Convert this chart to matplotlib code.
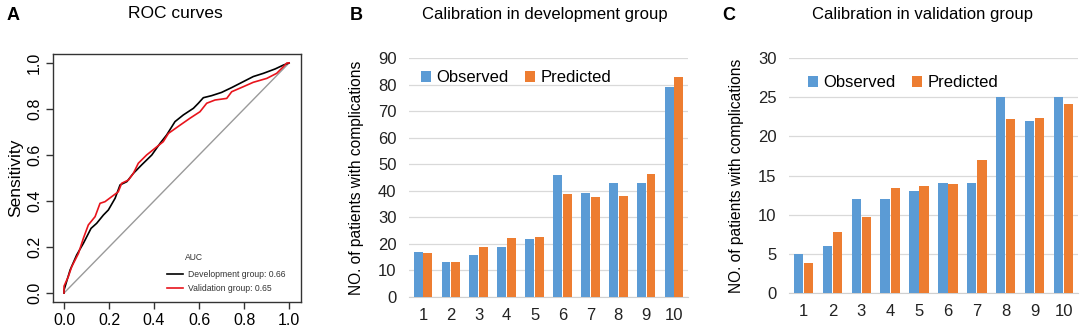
import matplotlib.pyplot as plt
import numpy as np

plt.rcParams['font.family'] = ['Liberation Sans', 'DejaVu Sans']

# ROC curve points (1 - specificity, sensitivity)
dev_fpr = [0.0, 0.0, 0.027, 0.056, 0.086, 0.12, 0.145, 0.175, 0.197, 0.227, 0.249, 0.279,
           0.308, 0.345, 0.39, 0.427, 0.456, 0.493, 0.53, 0.575, 0.597, 0.619, 0.656,
           0.7, 0.745, 0.797, 0.841, 0.886, 0.938, 0.975, 1.0]
dev_tpr = [0.0, 0.013, 0.1, 0.165, 0.216, 0.281, 0.303, 0.339, 0.361, 0.412, 0.47, 0.484,
           0.52, 0.557, 0.6, 0.651, 0.687, 0.745, 0.774, 0.803, 0.825, 0.849, 0.858,
           0.872, 0.893, 0.919, 0.941, 0.955, 0.974, 0.991, 1.0]
val_fpr = [0.0, 0.0, 0.019, 0.034, 0.064, 0.086, 0.108, 0.138, 0.16, 0.182, 0.212, 0.241,
           0.256, 0.286, 0.308, 0.33, 0.367, 0.404, 0.441, 0.464, 0.516, 0.56, 0.604,
           0.634, 0.671, 0.723, 0.745, 0.797, 0.841, 0.901, 0.945, 0.975, 0.99, 1.0]
val_tpr = [0.0, 0.03, 0.071, 0.114, 0.172, 0.238, 0.296, 0.332, 0.39, 0.397, 0.419, 0.44,
           0.477, 0.491, 0.52, 0.564, 0.6, 0.629, 0.658, 0.694, 0.73, 0.76, 0.788,
           0.825, 0.839, 0.846, 0.875, 0.897, 0.916, 0.933, 0.955, 0.984, 1.0, 1.0]
auc_labels = ['Development group: 0.66', 'Validation group: 0.65']

# calibration bars
deciles = ['1', '2', '3', '4', '5', '6', '7', '8', '9', '10']
dev_observed = [17, 13, 16, 19, 22, 46, 39, 43, 43, 79]
dev_predicted = [16.4, 13.3, 18.7, 22.1, 22.6, 38.8, 37.8, 37.9, 46.4, 82.9]
val_observed = [5, 6, 12, 12, 13, 14, 14, 25, 22, 25]
val_predicted = [3.8, 7.8, 9.7, 13.4, 13.7, 13.9, 17.0, 22.2, 22.3, 24.1]

BLUE = '#5B9BD5'
ORANGE = '#ED7D31'

W, H = 1084, 330
fig = plt.figure(figsize=(W / 100, H / 100), dpi=100)


def px_rect(left, top, right, bottom):
    return [left / W, 1 - bottom / H, (right - left) / W, (bottom - top) / H]


# ---- A: ROC ----
ax = fig.add_axes(px_rect(53, 54, 301, 302))
ax.plot([0, 1], [0, 1], color='#9a9a9a', lw=1)
ax.plot(dev_fpr, dev_tpr, color='black', lw=1.2, label=auc_labels[0])
ax.plot(val_fpr, val_tpr, color='#e8141c', lw=1.2, label=auc_labels[1])
ax.set_xlim(-0.049, 1.053)
ax.set_ylim(-0.039, 1.039)
ticks = [0.0, 0.2, 0.4, 0.6, 0.8, 1.0]
ax.set_xticks(ticks)
ax.set_xticklabels(['%.1f' % t for t in ticks])
ax.set_yticks(ticks)
ax.set_yticklabels(['%.1f' % t for t in ticks], rotation=90, va='center')
ax.tick_params(length=5, width=1, labelsize=11.5, pad=3, color='#333333')
for s in ax.spines.values():
    s.set_linewidth(1)
    s.set_color('#333333')
ax.set_ylabel('Sensitivity', fontsize=12.5, labelpad=3)
leg = ax.legend(loc='upper left', bbox_to_anchor=(163 / W, 1 - 266 / H),
                bbox_transform=fig.transFigure, frameon=False, fontsize=6.2,
                handlelength=1.8, handletextpad=0.6, labelspacing=0.55, borderpad=0)
for t in leg.get_texts():
    t.set_color('#333333')
fig.text(185 / W, 1 - 257 / H, 'AUC', fontsize=6.2, color='#333333', va='center')


def calib(rect, obs, pred, ymax, step, leg_anchor):
    ax = fig.add_axes(px_rect(*rect))
    x = np.arange(len(deciles))
    ax.bar(x - 0.175, obs, width=0.32, color=BLUE, label='Observed', zorder=3)
    ax.bar(x + 0.175, pred, width=0.32, color=ORANGE, label='Predicted', zorder=3)
    ax.set_xlim(-0.5, len(deciles) - 0.5)
    ax.set_ylim(0, ymax)
    ax.set_yticks(np.arange(0, ymax + step, step))
    ax.set_xticks(x)
    ax.set_xticklabels(deciles)
    ax.yaxis.grid(True, color='#d9d9d9', lw=0.9, zorder=0)
    ax.set_axisbelow(True)
    for k in ['top', 'right', 'left']:
        ax.spines[k].set_visible(False)
    ax.spines['bottom'].set_color('#d0d0d0')
    ax.tick_params(length=0, labelsize=12, colors='#222222')
    ax.tick_params(axis='x', pad=8)
    ax.tick_params(axis='y', pad=9)
    ax.set_ylabel('NO. of patients with complications', fontsize=11.2, labelpad=10)
    ax.legend(loc='upper left', bbox_to_anchor=leg_anchor, bbox_transform=fig.transFigure,
              frameon=False, ncol=2, fontsize=12, handlelength=0.6, handleheight=0.6,
              handletextpad=0.3, columnspacing=1.0, borderpad=0)
    return ax


calib((409, 58, 688, 297), dev_observed, dev_predicted, 90, 10, (413 / W, 1 - 62 / H))
calib((789, 58, 1078, 293), val_observed, val_predicted, 30, 5, (800 / W, 1 - 67 / H))

# panel labels and titles
fig.text(7 / W, 1 - 15 / H, 'A', fontsize=13, fontweight='bold', va='center')
fig.text(175 / W, 1 - 14 / H, 'ROC curves', fontsize=12.5, ha='center', va='center')
fig.text(350 / W, 1 - 15 / H, 'B', fontsize=13, fontweight='bold', va='center')
fig.text(545 / W, 1 - 14 / H, 'Calibration in development group', fontsize=12, ha='center', va='center')
fig.text(722 / W, 1 - 15 / H, 'C', fontsize=13, fontweight='bold', va='center')
fig.text(922 / W, 1 - 15 / H, 'Calibration in validation group', fontsize=12, ha='center', va='center')

fig.savefig('out.png', dpi=100)
